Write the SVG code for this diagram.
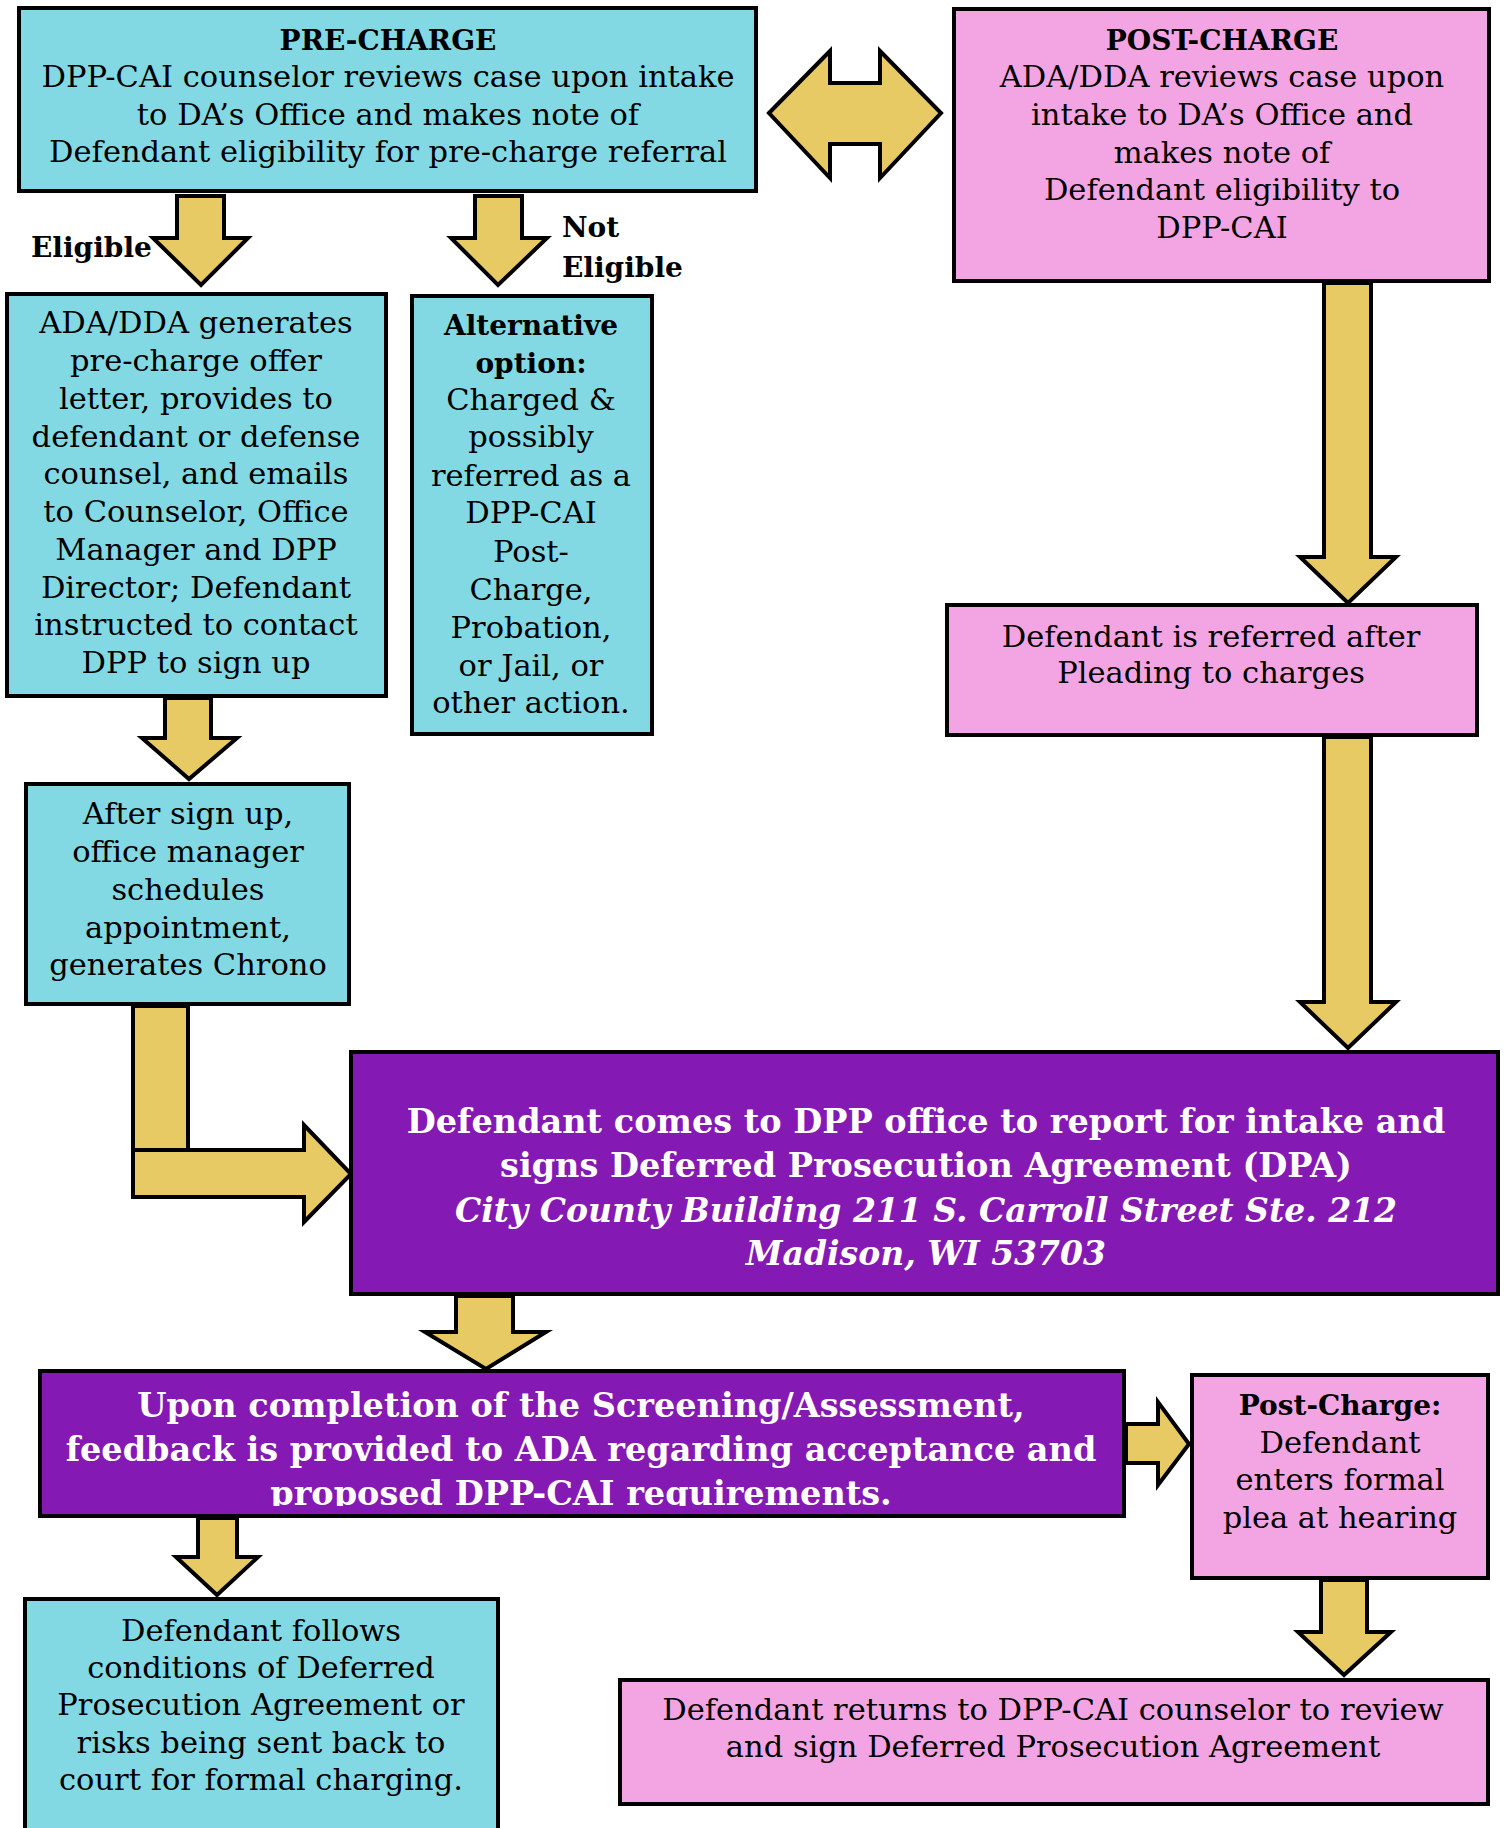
<svg xmlns="http://www.w3.org/2000/svg" width="1504" height="1828" viewBox="0 0 1504 1828">
<style>
.box{stroke:#000;stroke-width:4}
.cyan{fill:#82D9E3}
.pink{fill:#F3A5E3}
.purple{fill:#8519B3}
.arr{fill:#E8CA64;stroke:#000;stroke-width:4;stroke-linejoin:miter}
text{font-family:"DejaVu Serif",serif;font-size:30.5px;fill:#000;text-anchor:middle}
.b{font-weight:bold;font-size:28px}
.w{fill:#fff;font-weight:bold;font-size:33.5px}
.i{font-style:italic;font-size:33px}
.lbl{text-anchor:start}
</style>
<defs>
<clipPath id="clip2"><rect x="38" y="1369" width="1088" height="137"/></clipPath>
</defs>

<g id="connectors">
<polygon class="arr" points="177,196 224,196 224,238 248,238 201,285 153,238 177,238"/>
<polygon class="arr" points="475,196 522,196 522,238 547,238 498,285 451,238 475,238"/>
<polygon class="arr" points="769,113 830,51 830,83 880,83 880,51 941,113 880,178 880,144 830,144 830,178"/>
<polygon class="arr" points="1324,283 1371,283 1371,557 1396,557 1348,603 1300,557 1324,557"/>
<polygon class="arr" points="1324,737 1371,737 1371,1002 1396,1002 1348,1048 1300,1002 1324,1002"/>
<polygon class="arr" points="165,698 211,698 211,738 237,738 189,779 142,738 165,738"/>
<polygon class="arr" points="133,1006 188,1006 188,1152 133,1152"/>
<polygon class="arr" points="133,1150 304,1150 304,1125 351,1174 304,1222 304,1197 133,1197"/>
<polygon class="arr" points="456,1296 513,1296 513,1332 546,1332 486,1369 425,1332 456,1332"/>
<polygon class="arr" points="198,1518 237,1518 237,1557 258,1557 217,1595 176,1557 198,1557"/>
<polygon class="arr" points="1126,1424 1158,1424 1158,1402 1189,1444 1158,1485 1158,1463 1126,1463"/>
<polygon class="arr" points="1321,1580 1367,1580 1367,1632 1391,1632 1344,1675 1298,1632 1321,1632"/>
<text class="b lbl" x="31" y="257">Eligible</text>
<text class="b lbl" x="562" y="237">Not</text>
<text class="b lbl" x="562" y="277">Eligible</text>
</g>

<g id="pre-charge">
<rect class="box cyan" x="19" y="8" width="737" height="183"/>
<text class="b" x="388" y="50">PRE-CHARGE</text>
<text x="388" y="87">DPP-CAI counselor reviews case upon intake</text>
<text x="388" y="125">to DA’s Office and makes note of</text>
<text x="388" y="162">Defendant eligibility for pre-charge referral</text>
</g>

<g id="post-charge">
<rect class="box pink" x="954" y="9" width="535" height="272"/>
<text class="b" x="1222" y="50">POST-CHARGE</text>
<text x="1222" y="87">ADA/DDA reviews case upon</text>
<text x="1222" y="125">intake to DA’s Office and</text>
<text x="1222" y="163">makes note of</text>
<text x="1222" y="200">Defendant eligibility to</text>
<text x="1222" y="238">DPP-CAI</text>
</g>

<g id="eligible-box">
<rect class="box cyan" x="7" y="294" width="379" height="402"/>
<text x="196" y="333">ADA/DDA generates</text>
<text x="196" y="371">pre-charge offer</text>
<text x="196" y="409">letter, provides to</text>
<text x="196" y="447">defendant or defense</text>
<text x="196" y="484">counsel, and emails</text>
<text x="196" y="522">to Counselor, Office</text>
<text x="196" y="560">Manager and DPP</text>
<text x="196" y="598">Director; Defendant</text>
<text x="196" y="635">instructed to contact</text>
<text x="196" y="673">DPP to sign up</text>
</g>

<g id="alternative">
<rect class="box cyan" x="412" y="296" width="240" height="438"/>
<text class="b" x="531" y="335">Alternative</text>
<text class="b" x="531" y="373">option:</text>
<text x="531" y="410">Charged &amp;</text>
<text x="531" y="447">possibly</text>
<text x="531" y="486">referred as a</text>
<text x="531" y="523">DPP-CAI</text>
<text x="531" y="562">Post-</text>
<text x="531" y="600">Charge,</text>
<text x="531" y="638">Probation,</text>
<text x="531" y="676">or Jail, or</text>
<text x="531" y="713">other action.</text>
</g>

<g id="after-signup">
<rect class="box cyan" x="26" y="784" width="323" height="220"/>
<text x="188" y="824">After sign up,</text>
<text x="188" y="862">office manager</text>
<text x="188" y="900">schedules</text>
<text x="188" y="938">appointment,</text>
<text x="188" y="975">generates Chrono</text>
</g>

<g id="referred">
<rect class="box pink" x="947" y="605" width="530" height="130"/>
<text x="1211" y="647">Defendant is referred after</text>
<text x="1211" y="683">Pleading to charges</text>
</g>

<g id="intake">
<rect class="box purple" x="351" y="1052" width="1147" height="242"/>
<text class="w" x="926" y="1133">Defendant comes to DPP office to report for intake and</text>
<text class="w" x="926" y="1177">signs Deferred Prosecution Agreement (DPA)</text>
<text class="w i" x="926" y="1222">City County Building 211 S. Carroll Street Ste. 212</text>
<text class="w i" x="926" y="1265">Madison, WI 53703</text>
</g>

<g id="screening">
<rect class="box purple" x="40" y="1371" width="1084" height="145"/>
<g clip-path="url(#clip2)">
<text class="w" x="581" y="1417">Upon completion of the Screening/Assessment,</text>
<text class="w" x="581" y="1461">feedback is provided to ADA regarding acceptance and</text>
<text class="w" x="581" y="1505">proposed DPP-CAI requirements.</text>
</g>
</g>

<g id="post-charge-plea">
<rect class="box pink" x="1192" y="1375" width="296" height="203"/>
<text class="b" x="1340" y="1415">Post-Charge:</text>
<text x="1340" y="1453">Defendant</text>
<text x="1340" y="1490">enters formal</text>
<text x="1340" y="1528">plea at hearing</text>
</g>

<g id="follows">
<rect class="box cyan" x="25" y="1599" width="473" height="240"/>
<text x="261" y="1641">Defendant follows</text>
<text x="261" y="1678">conditions of Deferred</text>
<text x="261" y="1715">Prosecution Agreement or</text>
<text x="261" y="1753">risks being sent back to</text>
<text x="261" y="1790">court for formal charging.</text>
</g>

<g id="returns">
<rect class="box pink" x="620" y="1680" width="868" height="124"/>
<text x="1053" y="1720">Defendant returns to DPP-CAI counselor to review</text>
<text x="1053" y="1757">and sign Deferred Prosecution Agreement</text>
</g>
</svg>
